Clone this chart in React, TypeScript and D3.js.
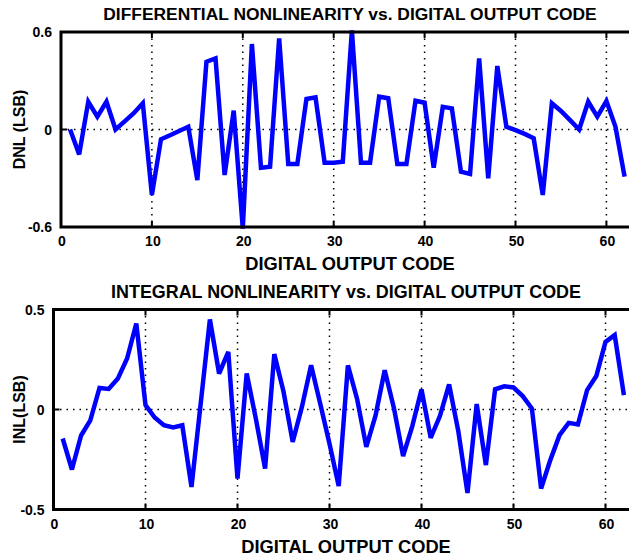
import React from 'react';
import * as d3 from 'd3';

// DNL / INL, codes 1..62
const codes = d3.range(1, 63);

const dnl = [
  0.0, -0.153, 0.171, 0.079, 0.171, 0.0, 0.05, 0.1, 0.161, -0.403,
  -0.06, -0.035, -0.009, 0.017, -0.311, 0.417, 0.438, -0.28, 0.116, -0.61,
  0.526, -0.235, -0.229, 0.561, -0.212, -0.212, 0.188, 0.198, -0.204, -0.204,
  -0.198, 0.61, -0.204, -0.204, 0.202, 0.192, -0.212, -0.212, 0.177, 0.165,
  -0.235, 0.14, 0.13, -0.26, -0.274, 0.438, -0.3, 0.391, 0.017, -0.004,
  -0.027, -0.054, -0.403, 0.161, 0.114, 0.058, 0.0, 0.171, 0.079, 0.175,
  0.017, -0.29
];

const inl = [
  -0.145, -0.3, -0.13, -0.054, 0.108, 0.103, 0.155, 0.255, 0.43, 0.022,
  -0.04, -0.079, -0.09, -0.079, -0.387, 0.03, 0.45, 0.18, 0.288, -0.345,
  0.18, -0.047, -0.295, 0.277, 0.09, -0.162, 0.013, 0.221, 0.027, -0.171,
  -0.383, 0.221, 0.053, -0.187, -0.031, 0.196, 0.008, -0.233, -0.083, 0.1,
  -0.142, -0.033, 0.125, -0.108, -0.417, 0.027, -0.278, 0.101, 0.116, 0.11,
  0.067, 0.005, -0.395, -0.253, -0.128, -0.067, -0.075, 0.097, 0.167, 0.338,
  0.372, 0.072
];

const xTicks = [0, 10, 20, 30, 40, 50, 60];
const dnlTicks = [-0.6, 0, 0.6];
const inlTicks = [-0.5, 0, 0.5];

const FONT = '"Liberation Sans", Arial, sans-serif';

interface PanelProps {
  values: number[];
  yTicks: number[];
  left: number;
  top: number;
  bottom: number;
  pxPerCode: number;
  title: string;
  titleSize: number;
  yLabel: string;
  titleY: number;
  centerX: number;
}

const Panel: React.FC<PanelProps> = ({ values, yTicks, left, top, bottom, pxPerCode, title, titleSize, yLabel, titleY, centerX }) => {
  const xMax = 63;
  const x = d3.scaleLinear().domain([0, xMax]).range([left, left + xMax * pxPerCode]);
  const y = d3.scaleLinear().domain([yTicks[0], yTicks[2]]).range([bottom, top]);
  const right = x(xMax);

  const line = d3.line<number>()
    .x((_, i) => x(codes[i]))
    .y(d => y(d));

  const clipId = `clip-${title.slice(0, 3)}`;

  return (
    <g>
      <defs>
        <clipPath id={clipId}>
          <rect x={left} y={top - 3} width={right - left} height={bottom - top + 6} />
        </clipPath>
      </defs>

      {/* grid */}
      {xTicks.filter(t => t > 0).map(t => (
        <line key={'gx' + t} x1={x(t)} x2={x(t)} y1={top} y2={bottom}
          stroke="#000" strokeWidth={1.5} strokeDasharray="1.5,5" />
      ))}
      <line x1={left} x2={right} y1={y(0)} y2={y(0)}
        stroke="#000" strokeWidth={1.5} strokeDasharray="1.5,5" />

      {/* tick marks */}
      {xTicks.map(t => (
        <g key={'tx' + t}>
          <line x1={x(t)} x2={x(t)} y1={bottom} y2={bottom - 6} stroke="#000" strokeWidth={2} />
          <line x1={x(t)} x2={x(t)} y1={top} y2={top + 6} stroke="#000" strokeWidth={2} />
        </g>
      ))}
      {yTicks.map(t => (
        <line key={'ty' + t} x1={left} x2={left + 6} y1={y(t)} y2={y(t)} stroke="#000" strokeWidth={2} />
      ))}

      {/* data */}
      <path d={line(values) ?? ''} fill="none" stroke="#0000ff" strokeWidth={4.5}
        strokeLinejoin="miter" strokeMiterlimit={3} clipPath={`url(#${clipId})`} />

      {/* box */}
      <rect x={left} y={top} width={right - left} height={bottom - top}
        fill="none" stroke="#000" strokeWidth={3} />

      {/* tick labels */}
      {xTicks.map(t => (
        <text key={'lx' + t} x={x(t) + 1} y={bottom + 19} textAnchor="middle"
          fontFamily={FONT} fontWeight="bold" fontSize={14}>{t}</text>
      ))}
      {yTicks.map(t => (
        <text key={'ly' + t} x={left - 9} y={y(t) + 5} textAnchor="end"
          fontFamily={FONT} fontWeight="bold" fontSize={14}>{String(t)}</text>
      ))}

      <text x={centerX} y={bottom + 43} textAnchor="middle"
        fontFamily={FONT} fontWeight="bold" fontSize={18.3}>DIGITAL OUTPUT CODE</text>
      <text x={centerX} y={titleY} textAnchor="middle"
        fontFamily={FONT} fontWeight="bold" fontSize={titleSize}>{title}</text>
      <text transform={`translate(25,${(top + bottom) / 2}) rotate(-90)`} textAnchor="middle"
        fontFamily={FONT} fontWeight="bold" fontSize={16}>{yLabel}</text>
    </g>
  );
};

export default function App() {
  return (
    <svg width={629} height={559} style={{ position: 'absolute', left: 0, top: 0, background: '#fff' }}>
      <rect width={629} height={559} fill="#fff" />
      <Panel values={dnl} yTicks={dnlTicks} left={61} top={32} bottom={227} pxPerCode={9.09}
        title="DIFFERENTIAL NONLINEARITY vs. DIGITAL OUTPUT CODE" titleSize={17.4}
        yLabel="DNL (LSB)" titleY={20} centerX={350} />
      <Panel values={inl} yTicks={inlTicks} left={53.5} top={309.5} bottom={509.5} pxPerCode={9.2}
        title="INTEGRAL NONLINEARITY vs. DIGITAL OUTPUT CODE" titleSize={17.9}
        yLabel="INL(LSB)" titleY={298} centerX={346} />
    </svg>
  );
}
